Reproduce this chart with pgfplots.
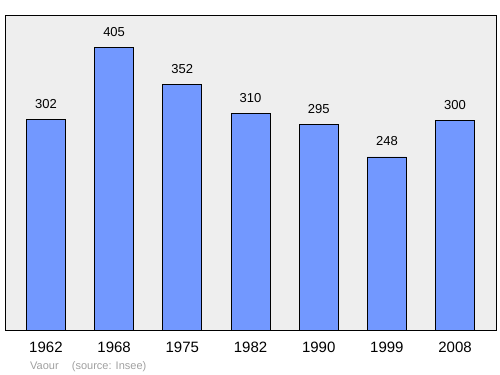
\documentclass[border=0pt]{standalone}
\usepackage{pgfplots}
\pgfplotsset{compat=1.18}
\usepackage{fontspec}
\setmainfont{Liberation Sans}
\definecolor{barblue}{RGB}{114,152,255}
\definecolor{bggrey}{RGB}{238,238,238}
\definecolor{footgrey}{RGB}{160,160,160}
\begin{document}
\begin{tikzpicture}[x=1bp,y=1bp]
\path[use as bounding box] (0,0) rectangle (500,374);
\begin{axis}[
  at={(5bp,44bp)}, anchor=south west,
  scale only axis, width=491bp, height=314bp,
  xmin=-0.6, xmax=6.6, ymin=0, ymax=450,
  axis background/.style={fill=bggrey},
  axis line style={black, line width=1bp},
  ytick=\empty,
  xtick={0,1,2,3,4,5,6},
  xticklabels={1962,1968,1975,1982,1990,1999,2008},
  major tick length=0pt,
  xticklabel style={font=\fontsize{15bp}{17bp}\selectfont, inner sep=0pt, anchor=north, yshift=-12bp},
  ybar, bar width=39bp,
  nodes near coords,
  every node near coord/.append style={font=\fontsize{13bp}{15bp}\selectfont, inner sep=0pt, anchor=south, yshift=10.5bp},
  /pgf/number format/assume math mode=true,
]
\addplot[fill=barblue, draw=black, line width=0.8bp] coordinates {(0,302) (1,405) (2,352) (3,310) (4,295) (5,248) (6,300)};
\end{axis}
\node[anchor=base west, inner sep=0pt, text=footgrey, font=\fontsize{11bp}{13bp}\selectfont] at (30,5) {Vaour\hspace{1.2em}(source: Insee)};
\end{tikzpicture}
\end{document}
